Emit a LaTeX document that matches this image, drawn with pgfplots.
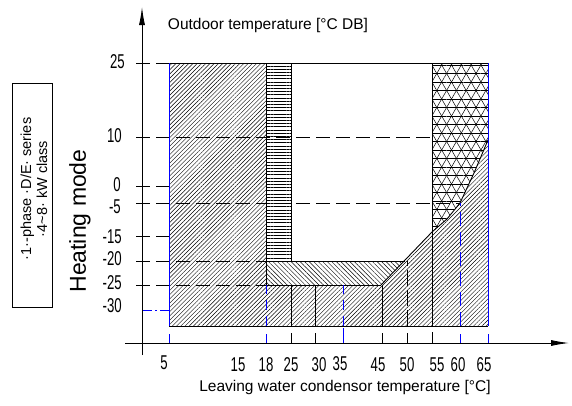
\documentclass[border=0pt]{standalone}
\usepackage{fontspec}
\setmainfont{Liberation Sans}
\newfontfamily\narrowfont[FakeStretch=0.66]{Liberation Sans}
\usepackage{pgfplots}
\pgfplotsset{compat=1.18}
\usetikzlibrary{patterns.meta,arrows.meta}
\definecolor{lblue}{RGB}{0,0,255}

% positions: u = px from vertical axis, v = px above horizontal axis
\begin{document}
\begin{tikzpicture}
\begin{axis}[x=1bp, y=1bp, scale only axis,
    xmin=-142, xmax=430, ymin=-62, ymax=343,
    hide axis, clip=false,
    every axis plot/.append style={line cap=butt},
    dashline/.style={black, line width=0.6bp, dash pattern=on 14bp off 6bp},
    edge/.style={black, line width=0.9bp},
]
\addplot[draw=none] coordinates {(-142,-62) (430,343)};

% hatched (45 deg) operating range
\addplot[draw=none, pattern={Lines[angle=45,distance=3bp,line width=0.45bp]}]
  coordinates {(27,17) (346,17) (346,203) (332,170) (318,140) (305,124) (290,111)
               (239,58) (124,58) (124,280) (27,280)} -- cycle;
% horizontal-line strip 18..25
\addplot[draw=none, pattern={Lines[angle=0,distance=3.2bp,line width=0.55bp]}]
  coordinates {(124,82) (149,82) (149,280) (124,280)} -- cycle;
% back-hatched band -25..-20
\addplot[draw=none, pattern={Lines[angle=-45,distance=3.2bp,line width=0.45bp]}]
  coordinates {(124,58) (239,58) (263,82) (124,82)} -- cycle;
% triangle grid 55..65
\addplot[draw=none, pattern={Lines[angle=0,distance=8.5bp,line width=0.5bp]}]
  coordinates {(290,280) (346,280) (346,203) (332,170) (318,140) (305,124) (290,111)} -- cycle;
\addplot[draw=none, pattern={Lines[angle=60,distance=8.5bp,line width=0.5bp]}]
  coordinates {(290,280) (346,280) (346,203) (332,170) (318,140) (305,124) (290,111)} -- cycle;
\addplot[draw=none, pattern={Lines[angle=-60,distance=8.5bp,line width=0.5bp]}]
  coordinates {(290,280) (346,280) (346,203) (332,170) (318,140) (305,124) (290,111)} -- cycle;

% dashed reference lines
\addplot[dashline] coordinates {(-6,280) (27,280)};
\addplot[dashline] coordinates {(-6,206) (290,206)};
\addplot[dashline] coordinates {(-6,157) (27,157)};
\addplot[dashline] coordinates {(-6,140) (318,140)};
\addplot[dashline] coordinates {(-6,107) (27,107)};
\addplot[dashline] coordinates {(-6,82) (124,82)};
\addplot[dashline] coordinates {(-6,58) (124,58)};

% outlines
\addplot[edge] coordinates {(27,280) (346,280)};
\addplot[edge] coordinates {(27,17) (346,17)};
\addplot[edge] coordinates {(239,58) (290,111) (305,124) (318,140) (332,170) (346,203)};
\addplot[edge] coordinates {(124,58) (239,58)};
\addplot[edge] coordinates {(124,82) (263,82)};
\addplot[edge] coordinates {(124,58) (124,280)};
\addplot[edge] coordinates {(149,82) (149,280)};
\addplot[edge] coordinates {(290,17) (290,280)};
\addplot[edge] coordinates {(240,17) (240,58)};
\addplot[edge] coordinates {(149,17) (149,58)};
\addplot[edge] coordinates {(173,17) (173,58)};
\addplot[black, line width=0.6bp, dash pattern=on 16bp off 4bp] coordinates {(265,17) (265,82)};
\addplot[lblue, line width=0.9bp] coordinates {(27,17) (27,280)};
\addplot[lblue, line width=0.9bp] coordinates {(346,17) (346,280)};
\addplot[lblue, line width=0.7bp, dash pattern=on 10bp off 6bp] coordinates {(124,17) (124,58)};
\addplot[lblue, line width=0.7bp, dash pattern=on 10bp off 6bp] coordinates {(201,17) (201,58)};
\addplot[lblue, line width=0.7bp, dash pattern=on 14bp off 6bp] coordinates {(318,17) (318,140)};
\addplot[lblue, line width=0.7bp, dash pattern=on 10bp off 3bp on 2bp off 3bp] coordinates {(0,33) (27,33)};

% x ticks
\addplot[lblue, line width=0.7bp] coordinates {(27,0) (27,9)};
\addplot[lblue, line width=0.7bp] coordinates {(124,0) (124,9)};
\addplot[edge] coordinates {(149,0) (149,10)};
\addplot[edge] coordinates {(173,0) (173,10)};
\addplot[lblue, line width=0.8bp] coordinates {(201,0) (201,15)};
\addplot[edge] coordinates {(240,0) (240,10)};
\addplot[edge] coordinates {(265,0) (265,10)};
\addplot[edge] coordinates {(290,0) (290,11)};
\addplot[lblue, line width=0.7bp] coordinates {(318,0) (318,9)};
\addplot[lblue, line width=0.7bp] coordinates {(346,0) (346,9)};

% axes
\draw[line width=0.9bp, -{Latex[length=18bp,width=6bp]}] (axis cs:0,-12) -- (axis cs:0,336);
\draw[line width=0.9bp, -{Latex[length=18bp,width=6bp]}] (axis cs:-17,0) -- (axis cs:427,0);

% tick labels
\begin{scope}[every node/.style={font=\narrowfont\fontsize{20bp}{20bp}\selectfont, inner sep=0pt}]
\node[anchor=east] at (axis cs:-17,281) {25};
\node[anchor=east] at (axis cs:-20,207) {10};
\node[anchor=east] at (axis cs:-21,158) {0};
\node[anchor=east] at (axis cs:-21,136) {-5};
\node[anchor=east] at (axis cs:-20,106) {-15};
\node[anchor=east] at (axis cs:-20,84) {-20};
\node[anchor=east] at (axis cs:-20,60) {-25};
\node[anchor=east] at (axis cs:-20,37) {-30};
\node at (axis cs:22,-20) {5};
\node at (axis cs:96,-22) {15};
\node at (axis cs:124,-22) {18};
\node at (axis cs:149,-22) {25};
\node at (axis cs:177,-22) {30};
\node at (axis cs:198,-21) {35};
\node at (axis cs:236,-22) {45};
\node at (axis cs:265,-22) {50};
\node at (axis cs:295,-22) {55};
\node at (axis cs:316,-22) {60};
\node at (axis cs:342,-22) {65};
\end{scope}

% titles
\node[font=\fontsize{15.5bp}{17bp}\selectfont] at (axis cs:126,318) {Outdoor temperature [°C DB]};
\node[font=\fontsize{15.5bp}{17bp}\selectfont] at (axis cs:203,-44) {Leaving water condensor temperature [°C]};
\node[font=\fontsize{23bp}{24bp}\selectfont, rotate=90] at (axis cs:-62,122) {Heating mode};
\draw[line width=0.7bp] (axis cs:-130,36) rectangle (axis cs:-90,260);
\node[font=\fontsize{14.5bp}{16bp}\selectfont, rotate=90, align=center] at (axis cs:-108,154)
  {·1·-phase ·D/E· series\\·4\textasciitilde 8· kW class};
\end{axis}
\end{tikzpicture}
\end{document}
